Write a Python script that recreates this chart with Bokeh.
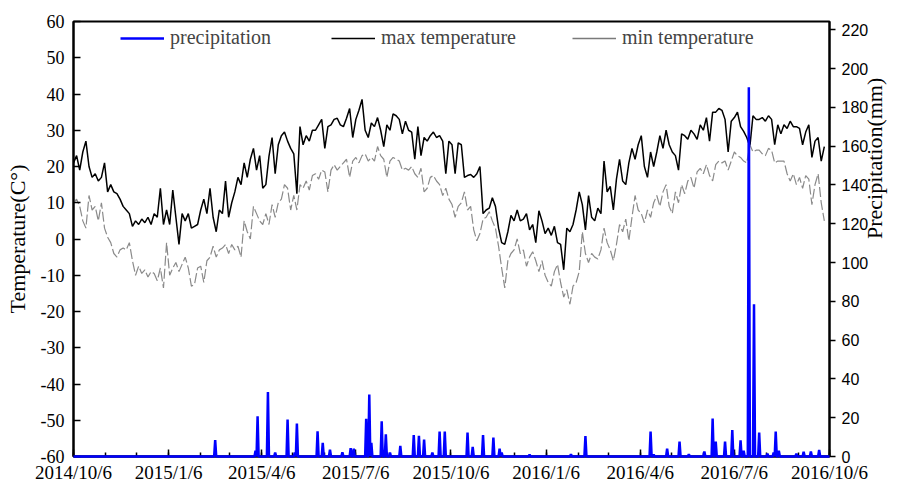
import math
import pandas as pd
from bokeh.plotting import figure
from bokeh.models import Range1d, LinearAxis, FixedTicker, Legend, LegendItem
from bokeh.embed import file_html
from bokeh.resources import INLINE

# ---------------- data ----------------
start_date = "2014-10-06"
step_days = 3  # temperature samples every 3 days from start_date

tmax_2014_15a = [21, 23, 19, 24, 27, 20, 17, 18, 16, 17, 21, 13, 15, 13, 12.5, 11, 9, 8, 7, 3.5,
                 5, 4, 5.5, 4.5, 6, 4, 7, 6, 14, 4, 8, 4, 13.5, 6, -1.5, 7, 5, 7, 3, 3.5,
                 4, 8, 11, 7, 14, 6, 2, 8, 7, 16, 6, 10, 13, 17, 15, 21, 17, 22, 25, 19, 23, 14]
tmax_2015b = [15, 22.8, 28, 18, 26, 28.5, 29.5, 27, 25, 23.5, 12.5, 31, 26, 28.5, 27, 30, 30, 31.5, 33, 25,
              31, 31.5, 33, 33.3, 31.5, 31, 33.3, 36, 28, 33, 35.5, 38.5, 30, 28, 32, 31, 33.5, 30, 25.5, 31.5,
              30, 34.5, 34, 33, 29, 32.5, 30, 29.5, 22, 31, 23, 28, 27, 28.5, 29.5, 28, 28.5, 27, 18, 27, 26]
tmax_2015_16c = [18, 26.5, 26, 17, 17.5, 17.8, 17, 18, 20, 7, 8, 8.5, 11.4, 9, 3, -1, -1.5, 2, 6.5, 5,
                 8, 5, 5.5, 7, 2.5, 4, -1, 7.8, 5, 1.5, 3, 1, 3.5, -1, -1.5, -8.5, 3, 2, 4, 8,
                 13, 9.5, 2.5, 12, 6, 5, 8.5, 7, 21.5, 13, 14.5, 8, 16.5, 22, 16, 15, 21, 25, 22, 26, 28.5]
tmax_2016d = [20, 17, 24, 20, 24, 28.5, 25, 30, 26, 24, 23, 19, 29, 28.5, 27.5, 30, 29, 27.5, 31.5, 30,
              33.5, 27, 35, 35, 36, 35.5, 33, 24, 32.5, 33.5, 35, 31, 29.7, 28, 25.5, 34, 33, 33, 33.5, 32.5,
              34, 33, 26, 31.5, 29, 31.5, 30.5, 32.5, 31, 31, 30.5, 26, 29.5, 31.5, 22.5, 27, 28, 21.5, 25.5]

tmin_2014_15a = [10, 11, 9, 5, 3, 12, 8, 9, 5, 10, 3, 0.5, -1, -4, -5, -3, -2.5, -3, -1, -6,
                 -10, -7.5, -9.5, -8.5, -10.5, -9, -9.5, -11.5, -8, -13.5, -1, -10, -8, -6.5, -9, -7, -5, -8, -13, -12.5,
                 -8, -7.5, -12, -6, -5, -2, -5, -3, -2.5, -1.5, -4, -1.5, -3, -2, -5, 5, 2, 0, 9, 7, 5, 4]
tmin_2015b = [7, 4, 9.5, 6, 10, 11, 15, 14, 8, 12, 8, 15, 14, 16, 13.5, 17.5, 18, 16.5, 19, 18.5,
              13, 19, 20.5, 19, 20, 21, 22, 17, 21.5, 22.5, 21, 23, 23.5, 21.5, 22.5, 21.5, 25.5, 23, 22, 17,
              21.5, 22.5, 22, 21.5, 19, 19.5, 19, 20, 18, 17, 19.5, 13, 14, 17, 17.5, 16, 15, 12, 14, 11, 9.5]
tmin_2015_16c = [6, 9, 10, 13, 8, 9, 2.5, -0.5, 1.5, 5.5, 6, 7.5, 5, 3, -2, -8, -13.5, -6, -4, -3,
                 0, -4, -3, -7.5, -5, -3.5, -6, -9, -6, -10, -12, -13, -9, -7, -12, -16, -14, -18, -13, -12,
                 -9, 2, -4, -6.5, -4, -5, -5.5, -3, 3, -1, -3, -6, -1.5, 4, 2, 5.5, -0.5, 6, 12, 8, 7]
tmin_2016d = [4.5, 8, 6, 10, 12, 9, 13, 15, 9, 7, 13, 10, 15, 12.5, 16, 17, 14, 18.5, 19.5, 18,
              20.5, 17.5, 16, 20.5, 21.5, 21, 21.5, 19, 21.5, 24, 23, 22.5, 21.5, 21, 26, 24, 24.5, 24.5, 23.5, 23,
              25, 24.5, 21, 21.5, 21.5, 21.5, 18, 16, 18, 15, 17, 14, 17.5, 16.5, 9.5, 15, 18, 10, 5]

# precipitation events: day offset from start_date, amount (mm); other days are 0
precip_day = [137, 176, 178, 188, 195, 207, 214, 216, 236, 241, 248, 260, 268, 271, 283, 286, 288, 298,
              302, 306, 316, 329, 334, 339, 347, 354, 359, 381, 386, 396, 406, 412, 414, 441, 481, 495,
              558, 561, 574, 586, 595, 610, 618, 621, 630, 637, 645, 648, 653, 658, 663, 671, 677, 679,
              682, 699, 706, 713, 721]
precip_mm = [8.5, 3, 20.8, 33.3, 2, 19, 2, 17, 13, 7, 3.5, 2.2, 4.3, 4, 19.5, 32, 7, 18.2,
             11.4, 2, 5.5, 11, 10.7, 8.7, 2, 12.8, 12.8, 12.3, 5, 11, 9.7, 4.1, 2, 1, 1.2, 10.6,
             12.8, 1, 4.1, 7.7, 1.2, 2.6, 19.6, 7.7, 7.7, 13.7, 8.4, 3, 190.4, 78.5, 12.3, 1.5, 2, 12.8,
             3, 1.5, 2.4, 2.6, 3.4]

tick_labels = ["2014/10/6", "2015/1/6", "2015/4/6", "2015/7/6", "2015/10/6",
               "2016/1/6", "2016/4/6", "2016/7/6", "2016/10/6"]
temp_ticks = list(range(-60, 61, 10))
precip_ticks = list(range(0, 221, 20))

# ---------------- derived ----------------
start = pd.Timestamp(start_date)
tmax = tmax_2014_15a + tmax_2015b + tmax_2015_16c + tmax_2016d
tmin = tmin_2014_15a + tmin_2015b + tmin_2015_16c + tmin_2016d
t_days = [i * step_days for i in range(len(tmax))]

major_days = [(pd.to_datetime(s, format="%Y/%m/%d") - start).days for s in tick_labels]
end_day = major_days[-1]
minor_days = [(d - start).days for d in pd.date_range(start, periods=25, freq=pd.DateOffset(months=1))]

daily = [0.0] * (end_day + 1)
for d, v in zip(precip_day, precip_mm):
    daily[d] = v
p_days = list(range(end_day + 1))

SERIF = "Liberation Serif"
SANS = "Liberation Sans"

p = figure(width=902, height=485, x_range=Range1d(0, end_day), y_range=Range1d(-60, 60),
           output_backend="svg", toolbar_location=None,
           min_border_left=73, min_border_right=73, min_border_top=21, min_border_bottom=26)
p.extra_y_ranges = {"pr": Range1d(0, 224.3)}
p.grid.visible = False
p.outline_line_color = "black"
p.outline_line_width = 2
p.background_fill_color = "white"
p.border_fill_color = "white"

r_max = p.line(t_days, tmax, color="black", line_width=1.5)
r_min = p.line(t_days, tmin, color="#8a8a8a", line_width=1.2, line_dash="10 3")
r_min_leg = p.line([0], [float("nan")], color="#7a7a7a", line_width=1.5)
r_pr = p.line(p_days, daily, y_range_name="pr", color="#0000ff", line_width=2.5, level="overlay")

# bottom axis
xa = p.xaxis[0]
xa.ticker = FixedTicker(ticks=major_days, minor_ticks=minor_days)
xa.major_label_overrides = {d: s for d, s in zip(major_days, tick_labels)}
xa.major_label_text_font = SERIF
xa.major_label_text_font_size = "19px"
xa.major_label_text_color = "black"
xa.major_label_standoff = 5
xa.major_tick_in = 7
xa.major_tick_out = 0
xa.minor_tick_in = 4
xa.minor_tick_out = 0
xa.axis_line_width = 2
xa.major_tick_line_width = 1.5
xa.minor_tick_line_width = 1.5

# left axis
ya = p.yaxis[0]
ya.ticker = FixedTicker(ticks=temp_ticks)
ya.major_label_overrides = {t: str(t) for t in temp_ticks}
ya.axis_label = "Temperature(C°)"
ya.axis_label_text_font = SERIF
ya.axis_label_text_font_size = "22px"
ya.axis_label_text_font_style = "normal"
ya.axis_label_text_color = "black"
ya.axis_label_standoff = 8
ya.major_label_text_font = SERIF
ya.major_label_text_font_size = "18px"
ya.major_label_text_color = "black"
ya.major_label_standoff = 9
ya.major_tick_in = 7
ya.major_tick_out = 0
ya.minor_tick_in = 0
ya.minor_tick_out = 0
ya.axis_line_width = 2
ya.major_tick_line_width = 1.5

# right axis
ra = LinearAxis(y_range_name="pr", ticker=FixedTicker(ticks=precip_ticks), axis_label="Precipitation(mm)")
ra.axis_label_orientation = math.pi / 2
ra.axis_label_text_font = SERIF
ra.axis_label_text_font_size = "22px"
ra.axis_label_text_font_style = "normal"
ra.axis_label_text_color = "black"
ra.axis_label_standoff = 3
ra.major_label_text_font = SANS
ra.major_label_text_font_size = "16px"
ra.major_label_text_color = "black"
ra.major_label_standoff = 6
ra.major_tick_in = 0
ra.major_tick_out = 6
ra.minor_tick_in = 0
ra.minor_tick_out = 0
ra.axis_line_width = 2
ra.major_tick_line_width = 1.5
p.add_layout(ra, "right")

# legends (three, placed across the top of the frame)
for lab, rend, x in [("precipitation", r_pr, 47), ("max temperature", r_max, 258), ("min temperature", r_min_leg, 499)]:
    leg = Legend(items=[LegendItem(label=lab, renderers=[rend])], location=(x, 407),
                 orientation="horizontal", background_fill_alpha=0, border_line_alpha=0,
                 padding=0, margin=0, glyph_width=44, glyph_height=16, label_standoff=6,
                 label_text_font=SERIF, label_text_font_size="20px")
    p.add_layout(leg)

open("out.html", "w").write(file_html(p, INLINE))
